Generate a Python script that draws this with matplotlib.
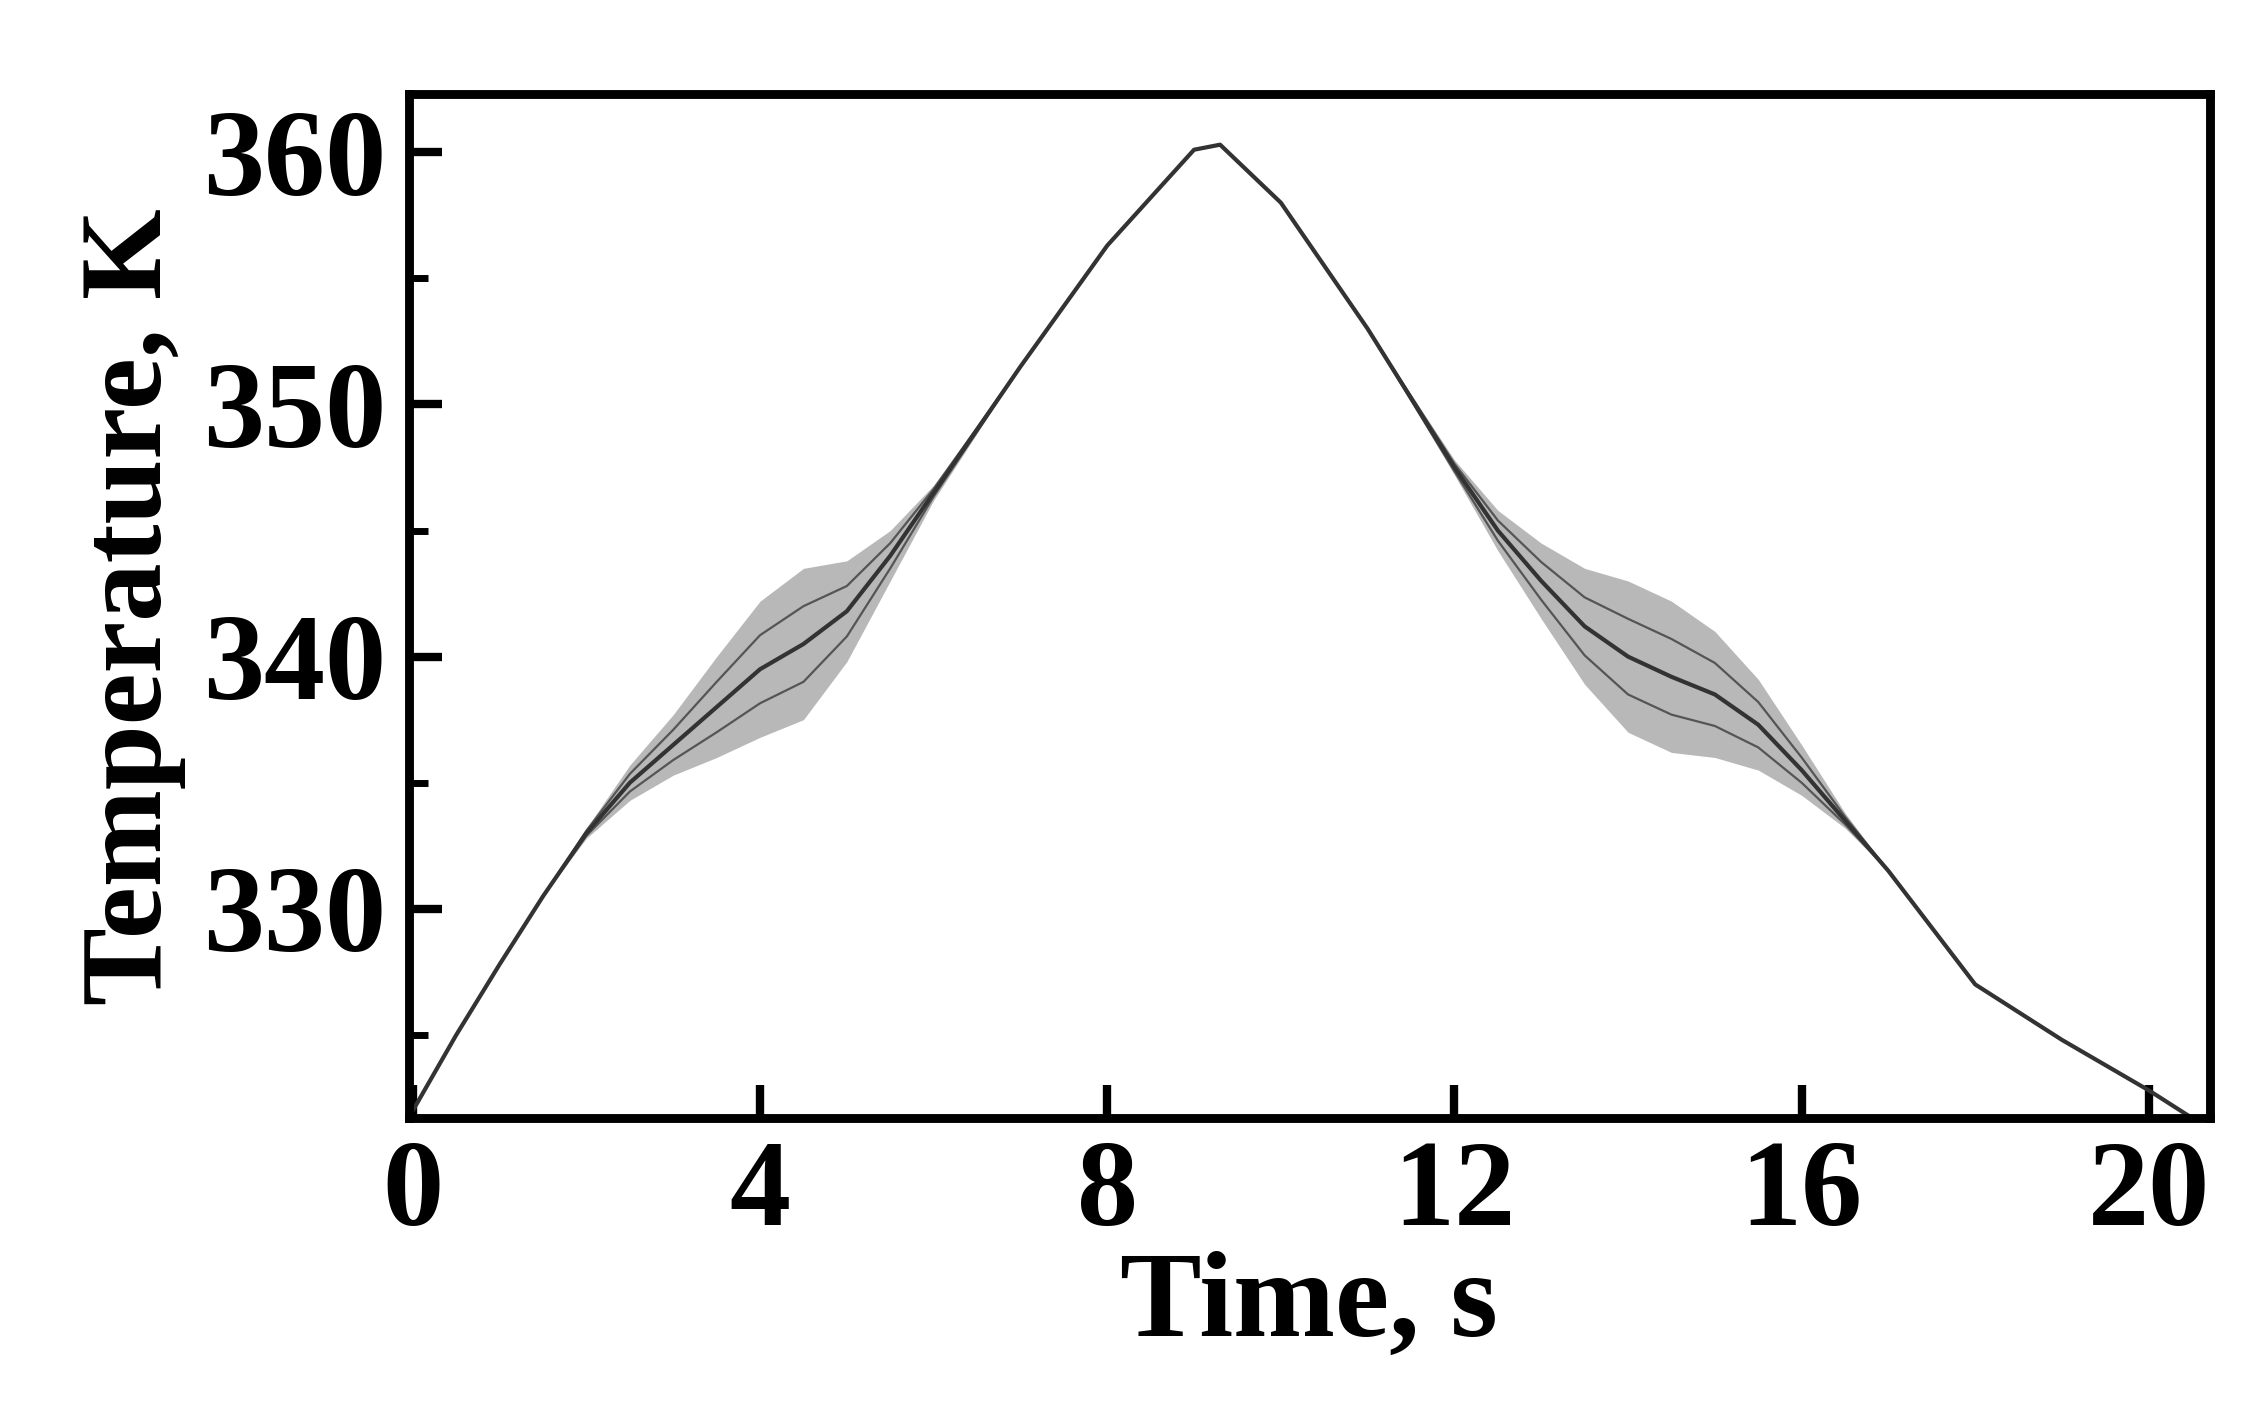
import matplotlib.pyplot as plt
import numpy as np

plt.rcParams['font.family'] = ['Liberation Serif', 'DejaVu Serif']
plt.rcParams['font.weight'] = 'bold'

# centre line of the temperature trace
time = [0, 0.5, 1, 1.5, 2, 2.5, 3, 3.5, 4, 4.5, 5, 5.5, 6, 7, 8, 9, 9.3, 10, 11, 12,
        12.5, 13, 13.5, 14, 14.5, 15, 15.5, 16, 16.5, 17, 18, 19, 20, 20.5]
temp = [322, 325, 327.8, 330.5, 333, 335, 336.5, 338, 339.5, 340.5, 341.8, 344, 346.5, 351.5,
        356.3, 360.1, 360.3, 358, 353, 347.5, 345, 343, 341.2, 340, 339.2, 338.5, 337.3, 335.5,
        333.5, 331.5, 327, 324.8, 322.8, 321.7]
# half-width of the oscillation band
band = [0, 0, 0, 0, 0.2, 0.7, 1.2, 2.0, 2.7, 3.0, 2.0, 1.0, 0.3, 0, 0, 0, 0, 0, 0, 0.3,
        0.8, 1.5, 2.3, 3.0, 3.0, 2.5, 1.8, 1.0, 0.3, 0, 0, 0, 0, 0]

t = np.array(time)
y = np.array(temp)
b = np.array(band)

fig = plt.figure(figsize=(11.285, 7.14), dpi=200)
ax = fig.add_axes([0.181, 0.217, 0.798, 0.717])
ax.fill_between(t, y - b, y + b, color='#8a8a8a', alpha=0.6, lw=0)
ax.plot(t, y + b * 0.5, color='#555555', lw=0.8)
ax.plot(t, y - b * 0.5, color='#555555', lw=0.8)
ax.plot(t, y, color='#333333', lw=1.5)

ax.set_xlim(-0.05, 20.7)
ax.set_ylim(321.7, 362.3)
ax.set_xticks([0, 4, 8, 12, 16, 20])
ax.set_yticks([330, 340, 350, 360])
ax.set_yticks([325, 335, 345, 355], minor=True)
ax.tick_params(axis='both', which='major', direction='in', length=12, width=3,
               labelsize=44, pad=8)
ax.tick_params(axis='y', which='minor', direction='in', length=7, width=2.5)
for s in ax.spines.values():
    s.set_linewidth(3.2)
ax.set_xlabel('Time, s', fontsize=44, fontweight='bold', labelpad=0)
ax.set_ylabel('Temperature, K', fontsize=42, fontweight='bold', labelpad=6)

fig.savefig('out.png')
